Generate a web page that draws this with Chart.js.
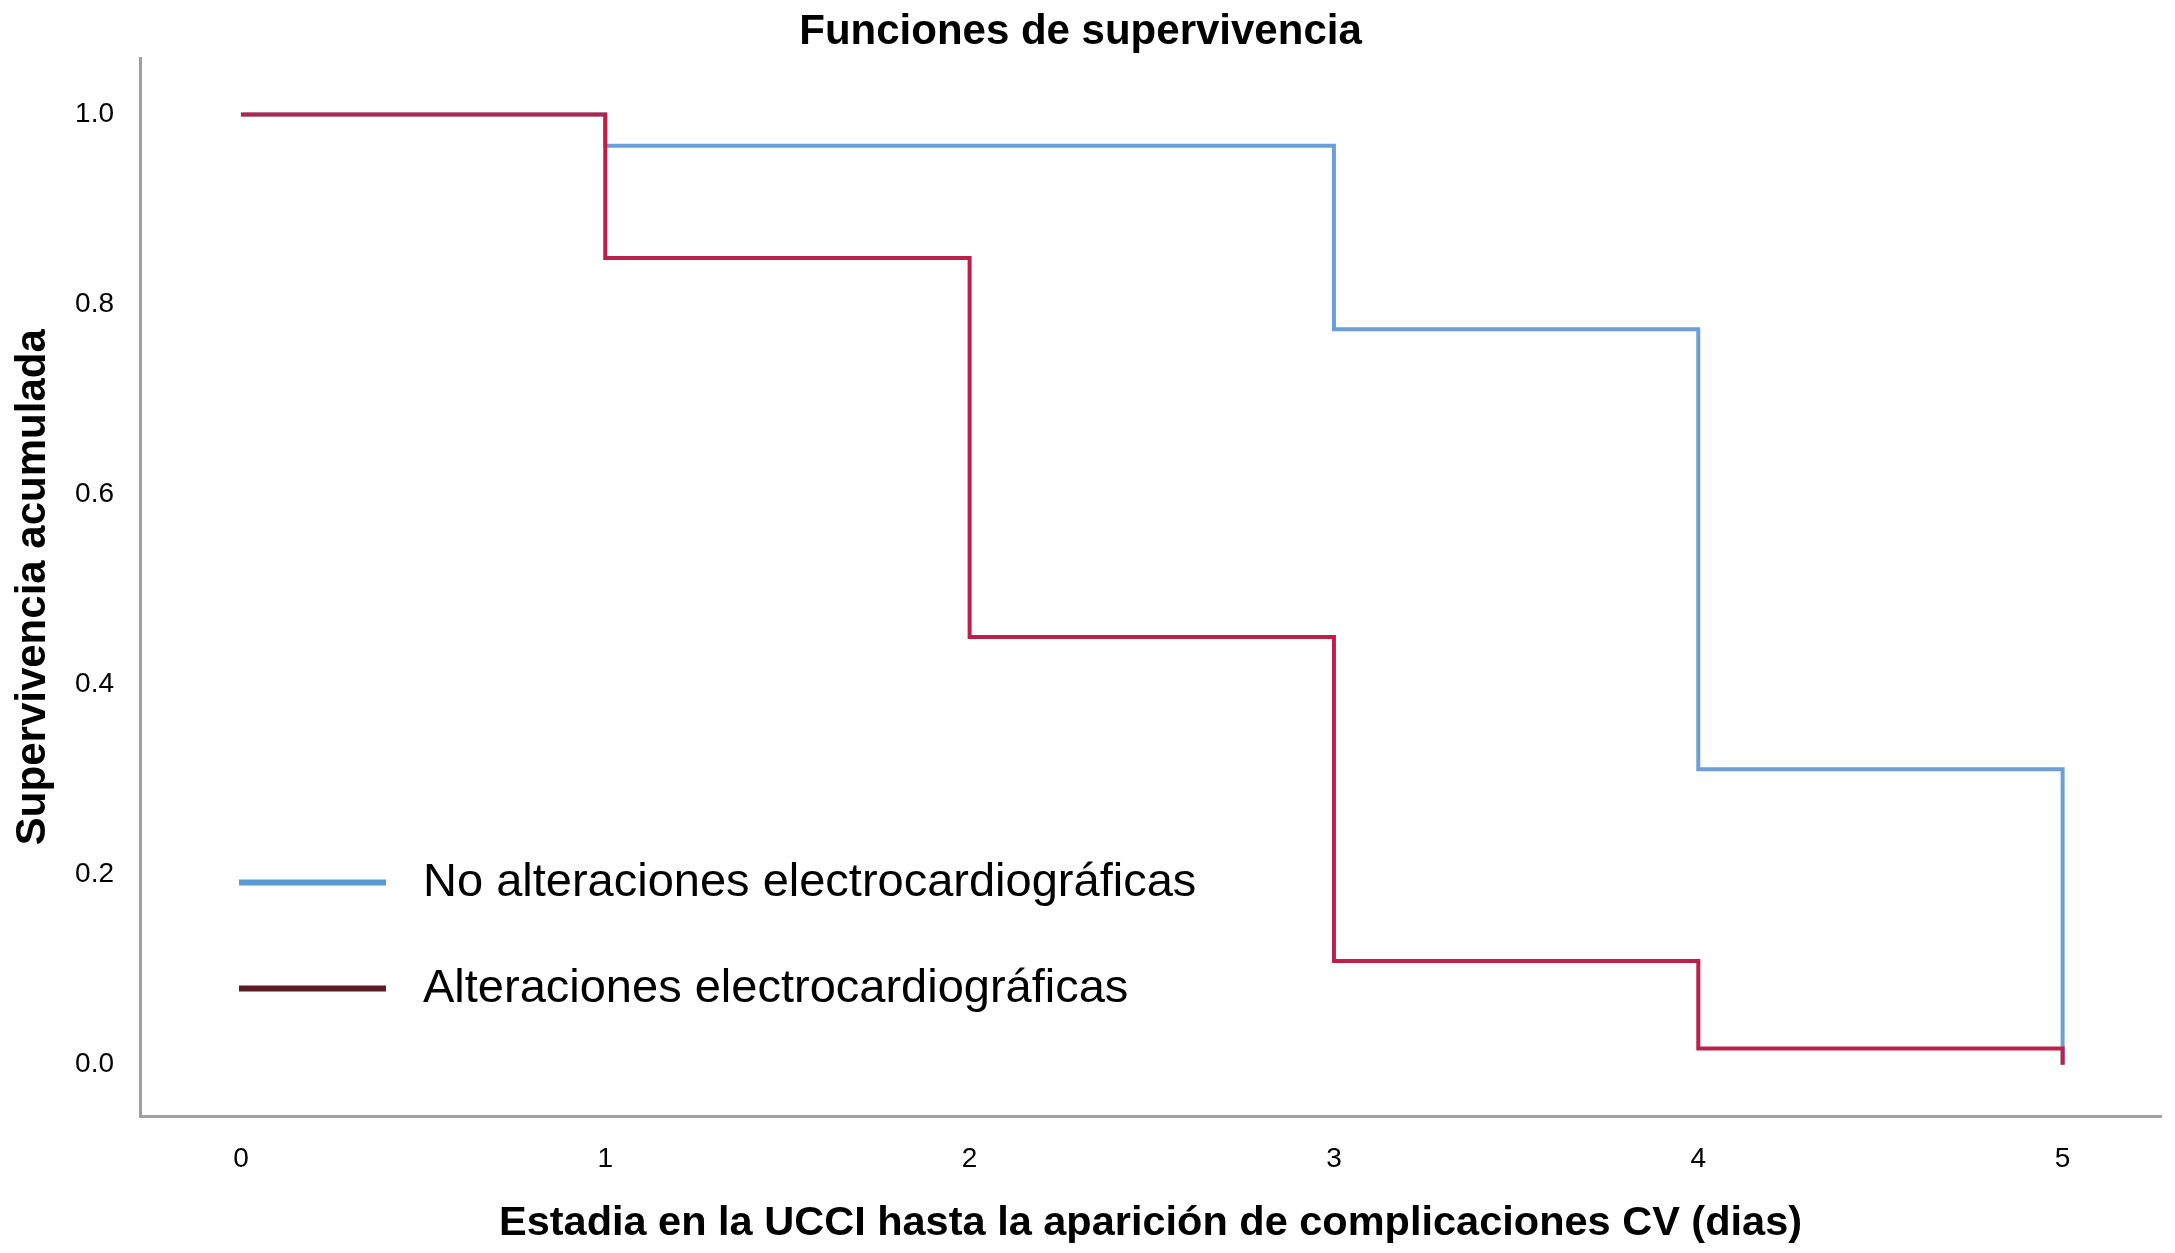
<!DOCTYPE html>
<html>
<head>
<meta charset="utf-8">
<script src="https://cdn.jsdelivr.net/npm/chart.js@4.4.1/dist/chart.umd.min.js"></script>
<style>
  body { margin: 0; background: #fff; }
  canvas { display: block; }
</style>
</head>
<body>
<canvas id="chart1" width="2175" height="1253"></canvas>
<script>
// days in UCCI and cumulative survival per group
const days = [0, 1, 2, 3, 4, 5];
const noAlteraciones = [1.0, 0.967, 0.967, 0.774, 0.311, 0.0];
const alteraciones = [1.0, 0.849, 0.450, 0.109, 0.017, 0.0];
const xTicks = [0, 1, 2, 3, 4, 5];
const yTicks = [0, 0.2, 0.4, 0.6, 0.8, 1.0];
const seriesNames = ['No alteraciones electrocardiográficas', 'Alteraciones electrocardiográficas'];

const font = '"Liberation Sans", Arial, sans-serif';

// legend drawn inside the plot, lower left
const insideLegend = {
    id: 'insideLegend',
    afterDraw(chart) {
        const c = chart.ctx;
        const a = chart.chartArea;
        const items = [
            { text: seriesNames[0], color: '#5b9bd5', y: a.top + 824 },
            { text: seriesNames[1], color: '#5c1c24', y: a.top + 930 }
        ];
        c.save();
        c.font = '47px ' + font;
        c.textBaseline = 'middle';
        c.fillStyle = '#000';
        items.forEach(it => {
            c.strokeStyle = it.color;
            c.lineWidth = 6;
            c.beginPath();
            c.moveTo(a.left + 99, it.y);
            c.lineTo(a.left + 246, it.y);
            c.stroke();
            c.fillText(it.text, a.left + 283, it.y + 1);
        });
        c.restore();
    }
};

const ctx = document.getElementById('chart1').getContext('2d');
const chart1 = new Chart(ctx, {
    type: 'line',
    data: {
        datasets: [
            {
                label: seriesNames[0],
                data: days.map((d, i) => ({ x: d, y: noAlteraciones[i] })),
                borderColor: '#6a9fd9',
                borderWidth: 4,
                stepped: true,
                pointRadius: 0,
                order: 1
            },
            {
                label: seriesNames[1],
                data: days.map((d, i) => ({ x: d, y: alteraciones[i] })),
                borderColor: '#bd1f4a',
                borderWidth: 4,
                stepped: true,
                pointRadius: 0,
                order: 0
            }
        ]
    },
    options: {
        responsive: false,
        animation: false,
        layout: {
            padding: { left: 0, right: 14, top: 0, bottom: 5 }
        },
        scales: {
            x: {
                type: 'linear',
                min: -0.277,
                max: 5.27,
                grid: { display: false },
                border: { color: '#a0a0a0', width: 3 },
                afterBuildTicks: s => { s.ticks = xTicks.map(v => ({ value: v })); },
                afterFit: s => { s.height = 132; },
                ticks: {
                    color: '#000',
                    padding: 18,
                    font: { family: font, size: 28 },
                    callback: v => String(v)
                },
                title: {
                    display: true,
                    text: 'Estadia en la UCCI hasta la aparición de complicaciones CV (dias)',
                    color: '#000',
                    font: { family: font, size: 41.5, weight: 'bold' },
                    padding: { top: 0, bottom: 0 }
                }
            },
            y: {
                min: -0.054,
                max: 1.059,
                grid: { display: false },
                border: { color: '#a0a0a0', width: 3 },
                afterBuildTicks: s => { s.ticks = yTicks.map(v => ({ value: v })); },
                afterFit: s => { s.width = 140; },
                ticks: {
                    color: '#000',
                    padding: 18,
                    font: { family: font, size: 28 },
                    callback: v => v.toFixed(1)
                },
                title: {
                    display: true,
                    text: 'Supervivencia acumulada',
                    color: '#000',
                    font: { family: font, size: 42, weight: 'bold' },
                    padding: { top: 8, bottom: 0 }
                }
            }
        },
        plugins: {
            legend: { display: false },
            tooltip: { enabled: false },
            title: {
                display: true,
                text: 'Funciones de supervivencia',
                color: '#000',
                font: { family: font, size: 42, weight: 'bold' },
                padding: { top: 7, bottom: 1 }
            }
        }
    },
    plugins: [insideLegend]
});
</script>
</body>
</html>
